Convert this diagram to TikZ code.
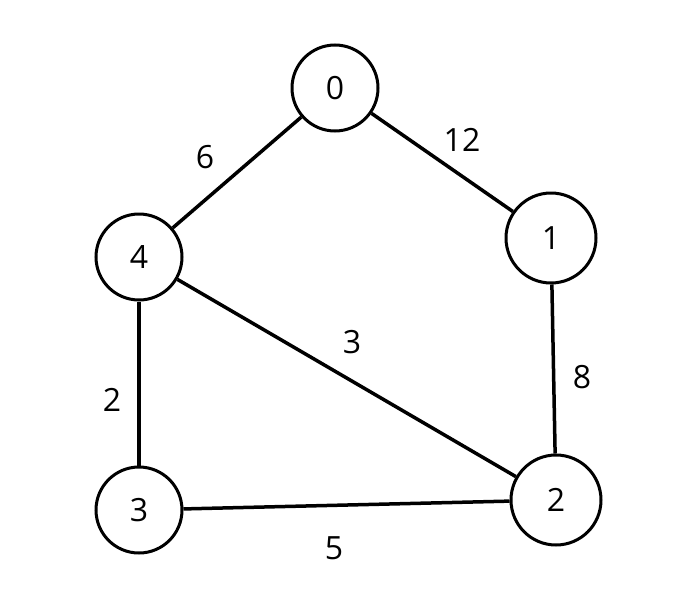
\documentclass[tikz,border=0pt]{standalone}
\usepackage{fontspec}
\setmainfont{Open Sans}
\usepackage{tikz}

\begin{document}
\begin{tikzpicture}[x=1pt,y=-1pt,
	vtx/.style={circle, draw, line width=3pt, minimum size=86pt, inner sep=0pt, font=\fontsize{32}{32}\selectfont},
	lbl/.style={font=\fontsize{32}{32}\selectfont}]
	\useasboundingbox (0,0) rectangle (698,613);
	\node (0) at (335, 88) [vtx] {0};
	\node (1) at (551, 238) [vtx, minimum size=90pt] {1};
	\node (4) at (139, 257) [vtx] {4};
	\node (3) at (139, 510) [vtx] {3};
	\node (2) at (556, 500) [vtx, minimum size=90pt] {2};
	\draw[line width=3.5pt][-] (0) to (4);
	\draw[line width=3.5pt][-] (0) to (1);
	\draw[line width=3.5pt][-] (4) to (2);
	\draw[line width=3.5pt][-] (4) to (3);
	\draw[line width=3.5pt][-] (1) to (2);
	\draw[line width=3.5pt][-] (3) to (2);
	\node[lbl] (l04) at (205, 157) {6};
	\node[lbl] (l01) at (462, 140) {12};
	\node[lbl] (l42) at (352, 342) {3};
	\node[lbl] (l12) at (582, 377) {8};
	\node[lbl] (l43) at (112, 400) {2};
	\node[lbl] (l32) at (334, 548) {5};
\end{tikzpicture}
\end{document}
